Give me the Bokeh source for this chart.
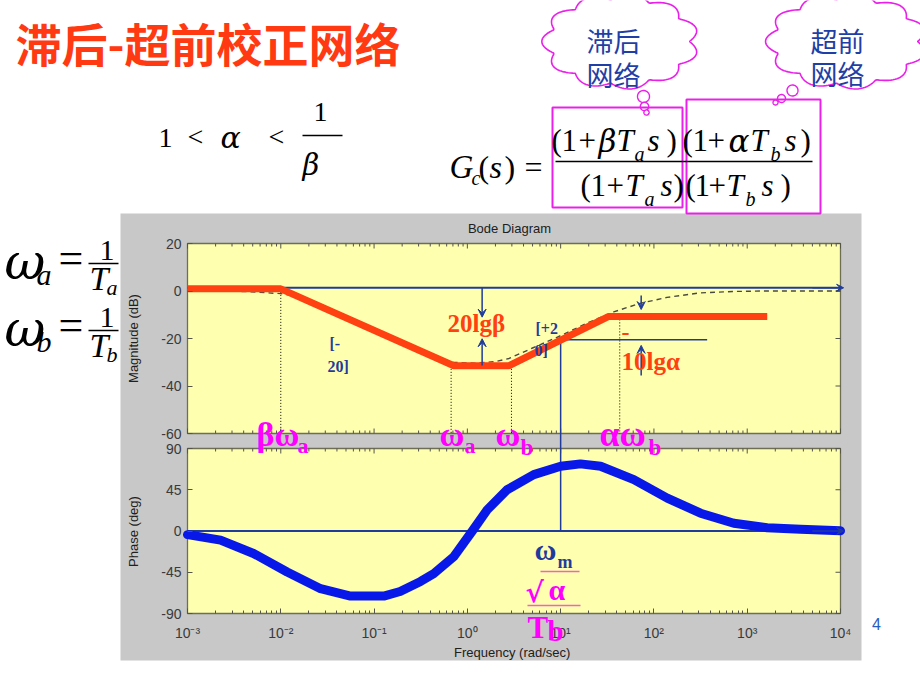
import numpy as np
from bokeh.plotting import figure
from bokeh.models import (Range1d, LinearScale, FixedTicker, Label, LinearAxis, LogAxis,
                          Arrow, VeeHead)
from bokeh.embed import file_html
from bokeh.resources import INLINE

# ---------------- data ----------------
freq_ticks = [1e-3, 1e-2, 1e-1, 1e0, 1e1, 1e2, 1e3, 1e4]
freq_tick_labels = ["10\u207b\u00b3", "10\u207b\u00b2", "10\u207b\u00b9", "10\u2070",
                    "10\u00b9", "10\u00b2", "10\u00b3", "10\u2074"]
freq_minor_mult = [2, 3, 4, 5, 6, 7, 8, 9]
mag_ticks = [20, 0, -20, -40, -60]
mag_tick_labels = ["20", "0", "-20", "-40", "-60"]
phase_ticks = [90, 45, 0, -45, -90]
phase_tick_labels = ["90", "45", "0", "-45", "-90"]

# asymptotic magnitude (red)
asym_w = [0.001, 0.01, 0.716, 2.78, 32.8, 1640.0]
asym_db = [0.9, 0.9, -31.5, -31.5, -10.7, -10.7]

# exact magnitude (dashed)
exact_w = [0.001, 0.004, 0.01, 0.015, 0.025, 0.05, 0.1, 0.2, 0.4, 0.7, 1.2, 2.0,
           2.8, 5.0, 10.0, 20.0, 37.0, 71.0, 138.0, 312.0, 700.0, 1500.0, 10000.0]
exact_db = [0.0, -0.2, -1.1, -2.3, -5.0, -10.5, -16.0, -21.5, -26.8, -30.0, -30.4, -29.7,
            -28.4, -24.0, -18.8, -13.2, -8.8, -5.2, -2.7, -0.8, -0.2, 0.0, 0.0]

# phase curve
phase_w = [0.001, 0.00226, 0.0051, 0.0117, 0.0267, 0.0559, 0.127, 0.19, 0.315, 0.436,
           0.716, 1.13, 1.63, 2.67, 5.15, 10.0, 16.3, 26.8, 60.9, 139.0, 316.0, 718.0,
           1637.0, 3727.0, 10000.0]
phase_deg = [-4.0, -9.9, -24.5, -44.7, -62.9, -71.0, -71.0, -66.0, -55.0, -46.5,
             -28.0, 0.0, 23.0, 45.0, 61.5, 70.6, 73.2, 70.6, 56.0, 35.9, 19.4, 8.4,
             3.6, 1.8, 0.3]

# corner frequencies (dotted drops) and their asymptote level
corner_w = [0.01, 0.67, 2.97, 43.0]
corner_db = [0.9, -31.5, -31.5, -10.7]

zero_db_line = 1.35          # blue 0 dB reference line
wm = 10.0                    # omega_m
wm_db = -20.5
wm_line_end = 372.0
beta_arrow_w = 1.44
beta_arrows = [(1.35, -11.0), (-31.4, -20.1)]
alpha_arrow_w = 73.0
alpha_arrows = [(-1.9, -7.8), (-35.6, -22.9)]

# ---------------- geometry / style ----------------
W, H = 920, 690
FL, FR, FT, FB = 187, 840, 243, 613
MAG_BOT_PX, PH_TOP_PX = 433, 448
mag_px = (MAG_BOT_PX - FT) / (mag_ticks[0] - mag_ticks[-1])
ph_px = (FB - PH_TOP_PX) / (phase_ticks[0] - phase_ticks[-1])
dec_px = (FR - FL) / 7.0
lx0 = np.log10(freq_ticks[0]) - FL / dec_px
lx1 = np.log10(freq_ticks[-1]) + (W - FR) / dec_px

YEL = "#ffffb0"
GRAY = "#c8c8c8"
BORDER = "#6e6e55"
TICKC = "#55554a"
RED = "#ff4010"
DBLUE = "#1f3c9c"
PBLUE = "#0818e8"
MAG = "#ff00ff"
MAGLINE = "#ea20ea"
TXT = "#3a3a3a"
SERIF = "Liberation Serif"
GREEK = "DejaVu Serif"


def ph_to_mag(v):
    px = PH_TOP_PX + (phase_ticks[0] - v) * ph_px
    return mag_ticks[0] - (px - FT) / mag_px


p = figure(width=W, height=H, x_axis_type="log", x_axis_location=None,
           y_axis_location=None, output_backend="svg", toolbar_location=None,
           x_range=Range1d(10 ** lx0, 10 ** lx1), y_range=Range1d(H, 0),
           min_border=0, min_border_left=0, min_border_right=0,
           min_border_top=0, min_border_bottom=0)
p.title.visible = False
p.extra_y_ranges = {
    "mag": Range1d(mag_ticks[0] - (H - FT) / mag_px, mag_ticks[0] + FT / mag_px),
    "ph": Range1d(phase_ticks[-1] - (H - FB) / ph_px, phase_ticks[0] + PH_TOP_PX / ph_px)}
p.extra_x_ranges = {"sx": Range1d(0, W)}
p.extra_x_scales = {"sx": LinearScale()}
p.background_fill_color = "white"
p.border_fill_color = "white"
p.outline_line_color = None
p.grid.visible = False

# gray MATLAB figure panel
p.quad(left=[120], right=[861], top=[213], bottom=[660], x_range_name="sx",
       fill_color=GRAY, line_color=None)

# yellow axes boxes
p.quad(left=[freq_ticks[0]], right=[freq_ticks[-1]], top=[mag_ticks[0]], bottom=[mag_ticks[-1]],
       fill_color=YEL, line_color=BORDER, line_width=1.3, y_range_name="mag")
p.quad(left=[freq_ticks[0]], right=[freq_ticks[-1]], top=[phase_ticks[0]], bottom=[phase_ticks[-1]],
       fill_color=YEL, line_color=BORDER, line_width=1.3, y_range_name="ph")

# axes
minor = [m * d for d in freq_ticks[:-1] for m in freq_minor_mult]
xa = LogAxis(y_range_name="ph", fixed_location=phase_ticks[-1],
             bounds=(freq_ticks[0], freq_ticks[-1]),
             ticker=FixedTicker(ticks=freq_ticks, minor_ticks=minor),
             major_label_overrides=dict(zip(freq_ticks, freq_tick_labels)),
             major_tick_in=5, major_tick_out=0, minor_tick_in=3, minor_tick_out=0,
             axis_line_color=None, major_tick_line_color=TICKC, minor_tick_line_color=TICKC,
             major_label_text_font="Liberation Sans", major_label_text_font_size="14px",
             major_label_text_color=TXT, major_label_standoff=11,
             axis_label="Frequency  (rad/sec)", axis_label_text_font="Liberation Sans",
             axis_label_text_font_style="normal", axis_label_text_font_size="13px",
             axis_label_text_color="#202020", axis_label_standoff=1)
p.add_layout(xa, "below")
for rng, ticks, labels in (("mag", mag_ticks, mag_tick_labels),
                           ("ph", phase_ticks, phase_tick_labels)):
    ya = LinearAxis(y_range_name=rng, fixed_location=freq_ticks[0],
                    bounds=(ticks[-1], ticks[0]), ticker=FixedTicker(ticks=ticks),
                    major_label_overrides=dict(zip(ticks, labels)),
                    major_tick_in=5, major_tick_out=0, minor_tick_line_color=None,
                    axis_line_color=None, major_tick_line_color=TICKC,
                    major_label_text_font="Liberation Sans", major_label_text_font_size="14px",
                    major_label_text_color=TXT, major_label_standoff=6)
    p.add_layout(ya, "left")

# box ticks on the other edges
maj_l, min_l = 5, 3
xs_t = freq_ticks + minor
lens = [maj_l] * len(freq_ticks) + [min_l] * len(minor)
n = len(xs_t)
p.segment(x0=xs_t, x1=xs_t, y0=[mag_ticks[0]] * n,
          y1=[mag_ticks[0] - L / mag_px for L in lens], line_color=TICKC, line_width=1,
          y_range_name="mag")
p.segment(x0=xs_t, x1=xs_t, y0=[mag_ticks[-1]] * n,
          y1=[mag_ticks[-1] + L / mag_px for L in lens], line_color=TICKC, line_width=1,
          y_range_name="mag")
p.segment(x0=xs_t, x1=xs_t, y0=[phase_ticks[0]] * n,
          y1=[phase_ticks[0] - L / ph_px for L in lens], line_color=TICKC, line_width=1,
          y_range_name="ph")
rx1 = freq_ticks[-1] / 10 ** (maj_l / dec_px)
p.segment(x0=[freq_ticks[-1]] * 5, x1=[rx1] * 5, y0=mag_ticks, y1=mag_ticks,
          line_color=TICKC, line_width=1, y_range_name="mag")
p.segment(x0=[freq_ticks[-1]] * 5, x1=[rx1] * 5, y0=phase_ticks, y1=phase_ticks,
          line_color=TICKC, line_width=1, y_range_name="ph")

# magnitude plot content
p.line(exact_w, exact_db, line_color="#4a4a40", line_width=1.4, line_dash="5 4",
       y_range_name="mag")
p.line([freq_ticks[0], freq_ticks[-1]], [zero_db_line] * 2, line_color=DBLUE, line_width=2,
       y_range_name="mag")
p.segment(x0=corner_w, x1=corner_w, y0=corner_db, y1=[mag_ticks[-1]] * 4,
          line_color="black", line_width=1, line_dash="1 2", y_range_name="mag")
p.segment(x0=[wm, wm], x1=[wm, wm_line_end], y0=[wm_db, wm_db],
          y1=[ph_to_mag(0), wm_db], line_color=DBLUE, line_width=1.5, y_range_name="mag")
p.line(asym_w, asym_db, line_color=RED, line_width=7, y_range_name="mag")

# phase plot content
p.line([freq_ticks[0], freq_ticks[-1]], [0, 0], line_color=DBLUE, line_width=2,
       y_range_name="ph")
p.line(phase_w, phase_deg, line_color=PBLUE, line_width=9, line_join="round",
       line_cap="round", y_range_name="ph")


def arrow(x0, y0, x1, y1, rng, size=8):
    p.add_layout(Arrow(x_start=x0, y_start=y0, x_end=x1, y_end=y1, y_range_name=rng,
                       line_color=DBLUE, line_width=1.5,
                       end=VeeHead(size=size, fill_color=DBLUE, line_color=DBLUE)))


for (a, b) in beta_arrows:
    arrow(beta_arrow_w, a, beta_arrow_w, b, "mag")
for (a, b) in alpha_arrows:
    arrow(alpha_arrow_w, a, alpha_arrow_w, b, "mag")
arrow(freq_ticks[-1] / 2, zero_db_line, freq_ticks[-1] * 1.08, zero_db_line, "mag", 7)
arrow(freq_ticks[-1] / 2, 0, freq_ticks[-1] * 1.08, 0, "ph", 7)


def lab(x, y, text, size, color="black", font=SERIF, style="normal",
        align="left", mid=False, angle=0.0):
    # y is the text baseline unless mid=True (then it is the vertical centre)
    yy = y if mid else y - 0.34 * size
    p.add_layout(Label(x=x, y=yy, text=text, text_font=font, text_font_size=f"{size}px",
                       text_font_style=style, text_color=color, text_align=align,
                       text_baseline="middle", angle=angle, x_range_name="sx"))


def hline(x0, x1, y, color="black", width=1.3):
    p.segment(x0=[x0], x1=[x1], y0=[y], y1=[y], line_color=color, line_width=width,
              x_range_name="sx")


def shape(cx, cy, rx, ry, n_lobes=0, bump=0.0, m=240):
    t = np.linspace(0, 2 * np.pi, m)
    r = 1 + bump * np.abs(np.sin(n_lobes * t / 2)) if n_lobes else np.ones_like(t)
    return list(cx + rx * r * np.cos(t)), list(cy + ry * r * np.sin(t))


# thought clouds (glyphs)
for cx, cy, rx in ((620, 41, 69), (846, 41, 71)):
    xs, ys = shape(cx, cy, rx, 42, n_lobes=11, bump=0.14)
    p.patch(xs, ys, x_range_name="sx", fill_color="white", line_color=MAGLINE, line_width=1.6)
for cx, cy, r in ((643, 96, 6), (644, 106, 4.2), (646, 112, 2.6),
                  (792, 90, 5.5), (781, 98, 4), (775, 102, 2.5)):
    xs, ys = shape(cx, cy, r, r, m=40)
    p.patch(xs, ys, x_range_name="sx", fill_color="white", line_color=MAGLINE, line_width=1.4)

# magenta boxes around the two factors
p.quad(left=[552, 686], right=[682, 820], top=[107, 99], bottom=[207, 213], x_range_name="sx",
       fill_color=None, line_color=MAGLINE, line_width=2)

# MATLAB texts
lab(509, 228, "Bode Diagram", 13, "#202020", "Liberation Sans", align="center", mid=True)
lab(133, 338, "Magnitude (dB)", 13, "#202020", "Liberation Sans", align="center",
    mid=True, angle=np.pi / 2)
lab(133, 531, "Phase (deg)", 13, "#202020", "Liberation Sans", align="center",
    mid=True, angle=np.pi / 2)

# title
lab(15, 41, "滞后-超前校正网络", 46, "#ff3a12", "Noto Sans CJK SC", "bold", mid=True)

# 1 < alpha < 1/beta
lab(158, 147, "1", 28)
lab(187, 146, "<", 28)
lab(220, 147, "α", 30, font=GREEK, style="italic")
lab(268, 146, "<", 28)
lab(313, 121, "1", 28)
hline(302, 342, 135)
lab(302, 174, "β", 29, font=GREEK, style="italic")

# omega_a = 1/T_a , omega_b = 1/T_b
for dy, sub in ((0, "a"), (67, "b")):
    lab(4, 278 + dy, "ω", 50, font=GREEK, style="italic")
    lab(36, 284 + dy, sub, 30, style="italic")
    lab(58, 273 + dy, "=", 44)
    lab(99, 260 + dy, "1", 30)
    hline(88, 118, 263 + dy, width=1.5)
    lab(89, 290 + dy, "T", 34, style="italic")
    lab(106, 294 + dy, sub, 22, style="italic")

# Gc(s) formula
lab(449, 178, "G", 33, style="italic")
lab(471, 184, "c", 20, style="italic")
lab(478, 177, "(", 32)
lab(489, 177, "s", 32, style="italic")
lab(504, 177, ")", 32)
lab(524, 177, "=", 32)
num = [(551, "(", SERIF, "normal"), (561, "1", SERIF, "normal"), (578, "+", SERIF, "normal"),
       (598, "β", GREEK, "italic"), (616, "T", SERIF, "italic"), (647, "s", SERIF, "italic"),
       (666, ")", SERIF, "normal"),
       (682, "(", SERIF, "normal"), (692, "1", SERIF, "normal"), (707, "+", SERIF, "normal"),
       (728, "α", GREEK, "italic"), (750, "T", SERIF, "italic"), (784, "s", SERIF, "italic"),
       (800, ")", SERIF, "normal")]
for x, t, f, st in num:
    lab(x, 151, t, 31, font=f, style=st)
lab(634, 160, "a", 20, style="italic")
lab(770, 160, "b", 20, style="italic")
hline(555, 812, 161)
den = [(580, "(", "normal"), (590, "1", "normal"), (606, "+", "normal"),
       (625, "T", "italic"), (660, "s", "italic"), (673, ")", "normal"),
       (685, "(", "normal"), (694, "1", "normal"), (708, "+", "normal"),
       (726, "T", "italic"), (761, "s", "italic"), (780, ")", "normal")]
for x, t, st in den:
    lab(x, 196, t, 31, style=st)
lab(644, 205, "a", 20, style="italic")
lab(745, 205, "b", 20, style="italic")

# cloud texts
for x, y, t in ((613, 40, "滞后"), (613, 74, "网络"), (837, 40, "超前"), (837, 73, "网络")):
    lab(x, y, t, 27, "#1f3fa6", "Noto Sans CJK SC", align="center", mid=True)

# annotations inside the magnitude plot
lab(447, 331, "20lgβ", 25, RED, style="bold")
lab(621, 369, "10lgα", 25, RED, style="bold")
lab(621, 340, "-", 24, RED, style="bold")
lab(329, 348, "[-", 16, DBLUE, style="bold")
lab(327, 371, "20]", 16, DBLUE, style="bold")
lab(535, 333, "[+2", 16, DBLUE, style="bold")
lab(534, 355, "0]", 16, DBLUE, style="bold")

# corner labels
lab(256, 446, "βω", 34, MAG, style="bold")
lab(297, 452, "a", 22, MAG, style="bold")
lab(439, 446, "ω", 34, MAG, style="bold")
lab(464, 452, "a", 22, MAG, style="bold")
lab(495, 446, "ω", 34, MAG, style="bold")
lab(520, 455, "b", 23, MAG, style="bold")
lab(599, 446, "αω", 36, MAG, style="bold")
lab(648, 455, "b", 23, MAG, style="bold")

# omega_m = sqrt(alpha)/T_b
lab(534, 559, "ω", 30, DBLUE, style="bold")
lab(557, 568, "m", 18, DBLUE, style="bold")
lab(525, 602, "√", 28, MAG, font=GREEK, style="bold")
lab(548, 599, "α", 30, MAG, style="bold")
hline(540, 579, 571, "#f060d0", 1.3)
hline(527, 580, 605, "#f060d0", 1.5)
lab(527, 638, "T", 31, MAG, style="bold")
lab(547, 640, "b", 29, MAG, style="bold")

# page number
lab(876, 629, "4", 16, "#2a5cc0", "Liberation Sans", align="center")

open("out.html", "w").write(file_html(p, INLINE))
